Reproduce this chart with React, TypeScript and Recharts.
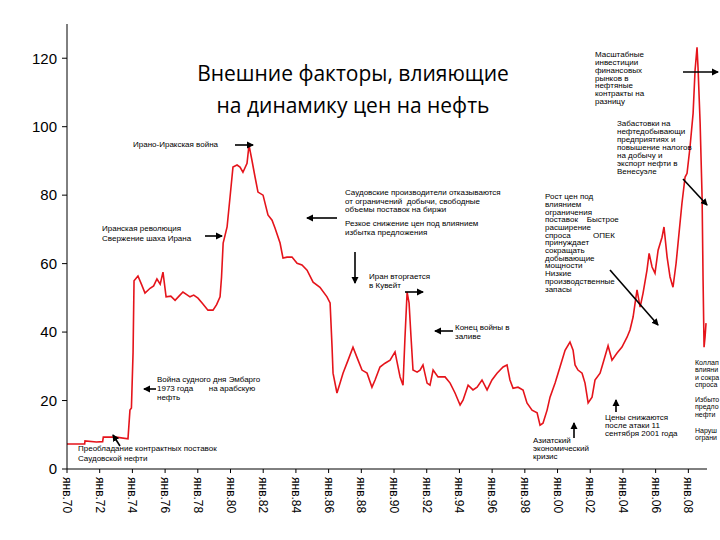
import React from 'react';
import { LineChart, Line, XAxis, YAxis } from 'recharts';

const years1970s = [1970.0, 1971.08, 1971.1, 1971.8, 1972.18, 1972.22, 1973.0, 1973.73, 1973.85, 1973.94, 1974.04, 1974.1, 1974.34, 1974.55, 1974.77, 1975.08, 1975.3, 1975.5, 1975.7, 1975.87, 1976.06, 1976.35, 1976.61, 1976.85, 1977.09, 1977.3, 1977.52, 1977.75, 1978.01, 1978.3, 1978.62, 1978.93, 1979.15, 1979.36, 1979.45, 1979.55, 1979.79, 1979.97];
const prices1970s = [7.3, 7.3, 8.2, 7.9, 8.0, 9.3, 9.3, 8.8, 17.2, 17.8, 34, 55, 56.4, 54, 51.4, 52.8, 53.5, 55.5, 54, 57.5, 50.3, 50.5, 49.3, 50.5, 51.7, 51, 50.3, 50.8, 49.9, 48.3, 46.4, 46.4, 48, 50.3, 56, 66, 70.7, 79.4];

const years1980s = [1980.15, 1980.4, 1980.58, 1980.76, 1981.01, 1981.13, 1981.31, 1981.5, 1981.68, 1981.99, 1982.29, 1982.54, 1982.72, 1983.03, 1983.21, 1983.46, 1983.76, 1984.07, 1984.37, 1984.68, 1985.05, 1985.47, 1985.9, 1986.09, 1986.21, 1986.27, 1986.51, 1986.7, 1986.88, 1987.19, 1987.49, 1987.8, 1988.04, 1988.35, 1988.65, 1988.84, 1989.14, 1989.45, 1989.76];
const prices1980s = [88.2, 88.8, 88.2, 86.7, 89.3, 94.6, 90.2, 85.3, 80.9, 80, 74.2, 72.7, 70.4, 66, 61.6, 61.9, 61.9, 60.1, 59.6, 58.1, 54.6, 53.1, 50.3, 48.5, 35.6, 28, 22.2, 25.1, 28, 31.8, 35.6, 31.8, 28.9, 28, 23.9, 26, 29.8, 30.9, 31.8];

const years1990s = [1990.06, 1990.37, 1990.55, 1990.67, 1990.8, 1990.92, 1991.04, 1991.16, 1991.41, 1991.59, 1991.77, 1992.02, 1992.2, 1992.39, 1992.69, 1993.12, 1993.43, 1993.73, 1994.04, 1994.22, 1994.53, 1994.83, 1995.08, 1995.38, 1995.69, 1995.99, 1996.3, 1996.67, 1996.91, 1997.09, 1997.28, 1997.58, 1997.89, 1998.13, 1998.44, 1998.75, 1998.93, 1999.11, 1999.36, 1999.54, 1999.85];
const prices1990s = [34.2, 26.9, 24.5, 38.5, 51.7, 48.5, 38.5, 28.9, 28.3, 28.9, 30.4, 25.1, 24.5, 28.9, 26.9, 26.9, 25.1, 22.2, 18.7, 20.1, 24.5, 23.1, 23.9, 26, 23.1, 26, 28, 29.8, 30.4, 26, 23.6, 23.9, 23.1, 19.3, 17.2, 16.4, 12.8, 13.4, 17.2, 21, 25.1];

const years2000s = [2000.15, 2000.46, 2000.76, 2000.95, 2001.07, 2001.25, 2001.5, 2001.68, 2001.87, 2002.11, 2002.29, 2002.6, 2002.78, 2003.09, 2003.33, 2003.64, 2003.94, 2004.25, 2004.43, 2004.62, 2004.86, 2005.05, 2005.23, 2005.47, 2005.6, 2005.78, 2005.96, 2006.15, 2006.39, 2006.51, 2006.7, 2006.88, 2007.06, 2007.25, 2007.37, 2007.61, 2007.8, 2007.92, 2008.1, 2008.29, 2008.41, 2008.53, 2008.59, 2008.72, 2008.84, 2008.9, 2008.96, 2009.02, 2009.08];
const prices2000s = [29.8, 34.7, 37.1, 34.7, 30.4, 28.9, 28, 25.1, 19.3, 21, 26, 28, 30.9, 36, 31.8, 33.9, 35.6, 38.5, 40.6, 44.4, 52.3, 47.3, 51.4, 58.1, 63, 59, 57.2, 63.9, 67.7, 70.7, 61.9, 56.1, 53.1, 60.1, 66, 77.7, 85.3, 86.4, 94, 103.9, 116.5, 123.2, 117.4, 101, 79.4, 55.2, 35.6, 38.5, 42.6];

const xTicks = [1970, 1972, 1974, 1976, 1978, 1980, 1982, 1984, 1986, 1988, 1990, 1992, 1994, 1996, 1998, 2000, 2002, 2004, 2006, 2008];
const yTicks = [0, 20, 40, 60, 80, 100, 120];

const titleLines = ['Внешние факторы, влияющие', 'на динамику цен на нефть'];

const notes = [
  { x: 133, y: 145, lines: ['Ирано-Иракская война'] },
  { x: 102, y: 229, lines: ['Иранская революция', 'Свержение шаха Ирана'], dy: 10 },
  { x: 157, y: 380, lines: ['Война судного дня Эмбарго', '1973 года       на арабскую', 'нефть'], dy: 9 },
  { x: 78, y: 449, lines: ['Преобладание контрактных поставок', 'Саудовской нефти'], dy: 10 },
  { x: 345, y: 193, lines: ['Саудовские производители отказываются', 'от ограничений  добычи, свободные', 'объемы поставок на биржи'], dy: 8.5 },
  { x: 345, y: 224, lines: ['Резкое снижение цен под влиянием', 'избытка предложения'], dy: 9 },
  { x: 369, y: 277, lines: ['Иран вторгается', 'в Кувейт'], dy: 8.5 },
  { x: 455, y: 328, lines: ['Конец войны в', 'заливе'], dy: 8.5 },
  { x: 545, y: 197, lines: ['Рост цен под', 'влиянием', 'ограничения', 'поставок    Быстрое', 'расширение', 'спроса          ОПЕК', 'принуждает', 'сокращать', 'добывающие', 'мощности', 'Низкие', 'производственные', 'запасы'], dy: 7.7 },
  { x: 595, y: 55, lines: ['Масштабные', 'инвестиции', 'финансовых', 'рынков в', 'нефтяные', 'контракты на', 'разницу'], dy: 7.8 },
  { x: 617, y: 124, lines: ['Забастовки на', 'нефтедобывающи', 'предприятиях и', 'повышение налогов', 'на добычу и', 'экспорт нефти в', 'Венесуэле'], dy: 7.9 },
  { x: 533, y: 441, lines: ['Азиатский', 'экономический', 'кризис'], dy: 8 },
  { x: 605, y: 418, lines: ['Цены снижаются', 'после атаки 11', 'сентября 2001 года'], dy: 8 },
  { x: 695, y: 363, lines: ['Коллап', 'влияни', 'и сокра', 'спроса'], dy: 7.4, fs: 7 },
  { x: 695, y: 400, lines: ['Избыто', 'предло', 'нефти'], dy: 7.5, fs: 7 },
  { x: 695, y: 431, lines: ['Наруш', 'ограни'], dy: 7.3, fs: 7 },
];

const arrows = [
  [235, 145, 253, 145],
  [205, 236, 222, 236],
  [156, 389, 144, 389],
  [120, 446, 113, 435],
  [337, 218, 307, 218],
  [355, 252, 355, 283],
  [405, 292, 423, 292],
  [453, 331, 435, 331],
  [610, 270, 658, 325],
  [683, 72, 718, 72],
  [683, 179, 707, 205],
  [574, 438, 574, 423],
  [616, 412, 616, 400],
];

const data = [
  ...years1970s.map((t, i) => ({ t, p: prices1970s[i] })),
  ...years1980s.map((t, i) => ({ t, p: prices1980s[i] })),
  ...years1990s.map((t, i) => ({ t, p: prices1990s[i] })),
  ...years2000s.map((t, i) => ({ t, p: prices2000s[i] })),
];

const XTick = (props: any) => {
  const { x, y, payload } = props;
  const yy = String(payload.value).slice(2);
  return (
    <text
      transform={`translate(${x},${y + 2}) rotate(90)`}
      textAnchor="start"
      dominantBaseline="central"
      fontSize={12}
      fontFamily="Liberation Sans, Arial, sans-serif"
      fill="#000"
    >
      {'янв.' + yy}
    </text>
  );
};

export default function App() {
  return (
    <div style={{ position: 'absolute', left: 0, top: 0, width: 720, height: 540, background: '#fff', overflow: 'hidden' }}>
      <LineChart width={720} height={540} data={data} margin={{ top: 24, right: 13, bottom: 0, left: 0 }}>
        <XAxis
          dataKey="t"
          type="number"
          domain={[1970, 2009.14]}
          ticks={xTicks}
          interval={0}
          height={71}
          tick={XTick}
          tickSize={4}
          stroke="#000"
          allowDataOverflow
        />
        <YAxis
          type="number"
          domain={[0, 130]}
          ticks={yTicks}
          width={67}
          tickSize={5}
          tickMargin={5}
          stroke="#000"
          tick={{ fill: '#000', fontSize: 15, fontFamily: 'Liberation Sans, Arial, sans-serif' }}
        />
        <Line
          type="linear"
          dataKey="p"
          stroke="#e5141b"
          strokeWidth={1.6}
          dot={false}
          isAnimationActive={false}
        />
      </LineChart>
      <svg width={720} height={540} style={{ position: 'absolute', left: 0, top: 0, pointerEvents: 'none' }}>
        <defs>
          <marker id="ah" markerWidth="8" markerHeight="8" refX="6" refY="4" orient="auto" markerUnits="userSpaceOnUse">
            <path d="M0,0.5 L7,4 L0,7.5 Z" fill="#000" />
          </marker>
        </defs>
        {titleLines.map((s, i) => (
          <text key={i} x={353} y={81 + i * 32} textAnchor="middle" fontSize={21} fontFamily="Open Sans, Noto Sans, sans-serif" fill="#000">
            {s}
          </text>
        ))}
        {notes.map((n, i) => (
          <g key={i}>
            {n.lines.map((l, j) => (
              <text
                key={j}
                x={n.x}
                y={n.y + j * (n.dy || 9)}
                dominantBaseline="middle"
                fontSize={n.fs || 8}
                fontFamily="Liberation Sans, Arial, sans-serif"
                fill="#000"
                style={{ whiteSpace: 'pre' }}
              >
                {l}
              </text>
            ))}
          </g>
        ))}
        {arrows.map((a, i) => (
          <line key={i} x1={a[0]} y1={a[1]} x2={a[2]} y2={a[3]} stroke="#000" strokeWidth={1.6} markerEnd="url(#ah)" />
        ))}
      </svg>
    </div>
  );
}
